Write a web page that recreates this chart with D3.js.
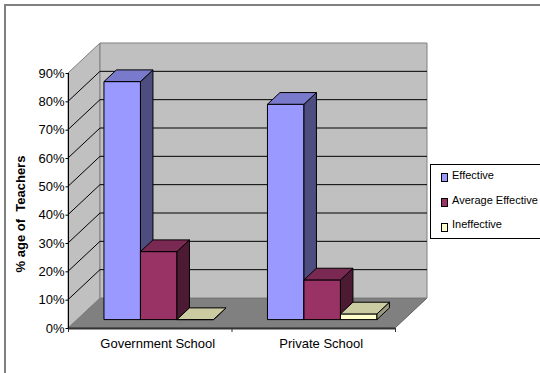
<!DOCTYPE html>
<html>
<head>
<meta charset="utf-8">
<script src="https://cdn.jsdelivr.net/npm/d3@7"></script>
<style>
  html, body { margin: 0; padding: 0; background: #fff; overflow: hidden; }
  svg { display: block; }
  text { font-family: "Liberation Sans", Arial, sans-serif; }
</style>
</head>
<body>
<svg id="chart" width="540" height="373"></svg>
<script>
// ---- data ----
const categories = ["Government School", "Private School"];
const seriesNames = ["Effective", "Average Effective", "Ineffective"];
const effective = [84, 76];
const averageEffective = [24, 14];
const ineffective = [0, 2];
const yTicks = [0, 10, 20, 30, 40, 50, 60, 70, 80, 90];
const yTickLabels = ["0%", "10%", "20%", "30%", "40%", "50%", "60%", "70%", "80%", "90%"];
const yTitle = "% age of  Teachers";

// ---- styles ----
const faceColors = {
  "Effective": { front: "#9999ff", side: "#4d4d80", top: "#7a7acc" },
  "Average Effective": { front: "#993366", side: "#4d1a33", top: "#7a2952" },
  "Ineffective": { front: "#ffffcc", side: "#999980", top: "#cccca3" }
};

const seriesValues = [effective, averageEffective, ineffective];

const svg = d3.select("#chart");

// outer frame
svg.append("rect").attr("x", 5).attr("y", 5).attr("width", 560).attr("height", 400)
  .attr("fill", "none").attr("stroke", "#808080").attr("stroke-width", 2);

// geometry
const DX = 32, DY = 30;
const x0 = d3.scaleBand().domain(categories).range([68, 395]).padding(0);
const x1 = d3.scaleBand().domain(seriesNames).range([0, x0.bandwidth()]).paddingInner(0).paddingOuter(0.74);
const y = d3.scaleLinear().domain([0, 90]).range([328, 73]);
const yMax = 90;
const xL = x0.range()[0], xR = x0.range()[1];

function proj(x, v, z) { return [x + z * DX, y(v) - z * DY]; }
const line = d3.line();
function poly(pts) { return line(pts) + "Z"; }

// floor
svg.append("path")
  .attr("d", poly([proj(xL, 0, 0), proj(xR, 0, 0), proj(xR, 0, 1), proj(xL, 0, 1)]))
  .attr("fill", "#808080").attr("stroke", "#606060").attr("stroke-width", 1);

// side wall
svg.append("path")
  .attr("d", poly([proj(xL, 0, 0), proj(xL, yMax, 0), proj(xL, yMax, 1), proj(xL, 0, 1)]))
  .attr("fill", "#c0c0c0").attr("stroke", "#808080").attr("stroke-width", 1);

// back wall
svg.append("path")
  .attr("d", poly([proj(xL, 0, 1), proj(xL, yMax, 1), proj(xR, yMax, 1), proj(xR, 0, 1)]))
  .attr("fill", "#c0c0c0").attr("stroke", "#808080").attr("stroke-width", 1);

// gridlines
const gridTicks = yTicks.filter(t => t > 0 && t < yMax);
const grid = svg.append("g").attr("stroke", "#000").attr("stroke-width", 1).attr("fill", "none");
gridTicks.forEach(t => {
  grid.append("path").attr("d", line([proj(xL, t, 0), proj(xL, t, 1), proj(xR, t, 1)]));
});

// floor front edge
svg.append("line")
  .attr("x1", xL).attr("x2", xR).attr("y1", y(0) + 0.5).attr("y2", y(0) + 0.5)
  .attr("stroke", "#333").attr("stroke-width", 2);
// category ticks
[xL, x0(categories[1]), xR].forEach(xx => {
  svg.append("line").attr("x1", xx + 0.5).attr("x2", xx + 0.5)
    .attr("y1", y(0)).attr("y2", y(0) + 4).attr("stroke", "#333").attr("stroke-width", 1);
});

// y axis
const yAxisG = svg.append("g").attr("transform", `translate(${xL + 0.5},0)`)
  .call(d3.axisLeft(y).tickValues(yTicks).tickSize(3).tickPadding(1)
    .tickFormat((d, i) => yTickLabels[i]));
yAxisG.select(".domain").attr("stroke", "#000").attr("d", `M-0,${y(yMax)}V${y(0)}`);
yAxisG.selectAll(".tick line").attr("stroke", "#000");
yAxisG.selectAll(".tick text").attr("font-size", 13).attr("fill", "#000")
  .attr("font-family", '"Liberation Sans", Arial, sans-serif');

// y title
svg.append("text")
  .attr("transform", "translate(25,214) rotate(-90)")
  .attr("text-anchor", "middle").attr("font-size", 13).attr("font-weight", "bold")
  .style("white-space", "pre")
  .text(yTitle);

// category labels
svg.selectAll(".cat").data(categories).enter().append("text")
  .attr("x", d => x0(d) + x0.bandwidth() / 2 + 8).attr("y", 348)
  .attr("text-anchor", "middle").attr("font-size", 13).attr("fill", "#000")
  .text(d => d);

// bars
const z0 = 0.28, z1 = 0.67;
const barsG = svg.append("g").attr("stroke", "#000").attr("stroke-width", 1).attr("stroke-linejoin", "round");
categories.forEach((cat, ci) => {
  seriesNames.forEach((s, si) => {
    const v = seriesValues[si][ci];
    const l = x0(cat) + x1(s), r = l + x1.bandwidth();
    const c = faceColors[s];
    barsG.append("path").attr("fill", c.front)
      .attr("d", poly([proj(l, 0, z0), proj(r, 0, z0), proj(r, v, z0), proj(l, v, z0)]));
    barsG.append("path").attr("fill", c.side)
      .attr("d", poly([proj(r, 0, z0), proj(r, 0, z1), proj(r, v, z1), proj(r, v, z0)]));
    barsG.append("path").attr("fill", c.top)
      .attr("d", poly([proj(l, v, z0), proj(r, v, z0), proj(r, v, z1), proj(l, v, z1)]));
  });
});

// legend
const legend = svg.append("g");
legend.append("rect").attr("x", 430.5).attr("y", 164.5).attr("width", 130).attr("height", 74)
  .attr("fill", "#fff").attr("stroke", "#000").attr("stroke-width", 1);
seriesNames.forEach((s, i) => {
  const yy = 173.5 + i * 25;
  legend.append("rect").attr("x", 441.5).attr("y", yy).attr("width", 6).attr("height", 8)
    .attr("fill", faceColors[s].front).attr("stroke", "#000").attr("stroke-width", 1);
  legend.append("text").attr("x", 452).attr("y", 179 + i * 24.5)
    .attr("font-size", 11).attr("fill", "#000").text(s);
});
</script>
</body>
</html>
